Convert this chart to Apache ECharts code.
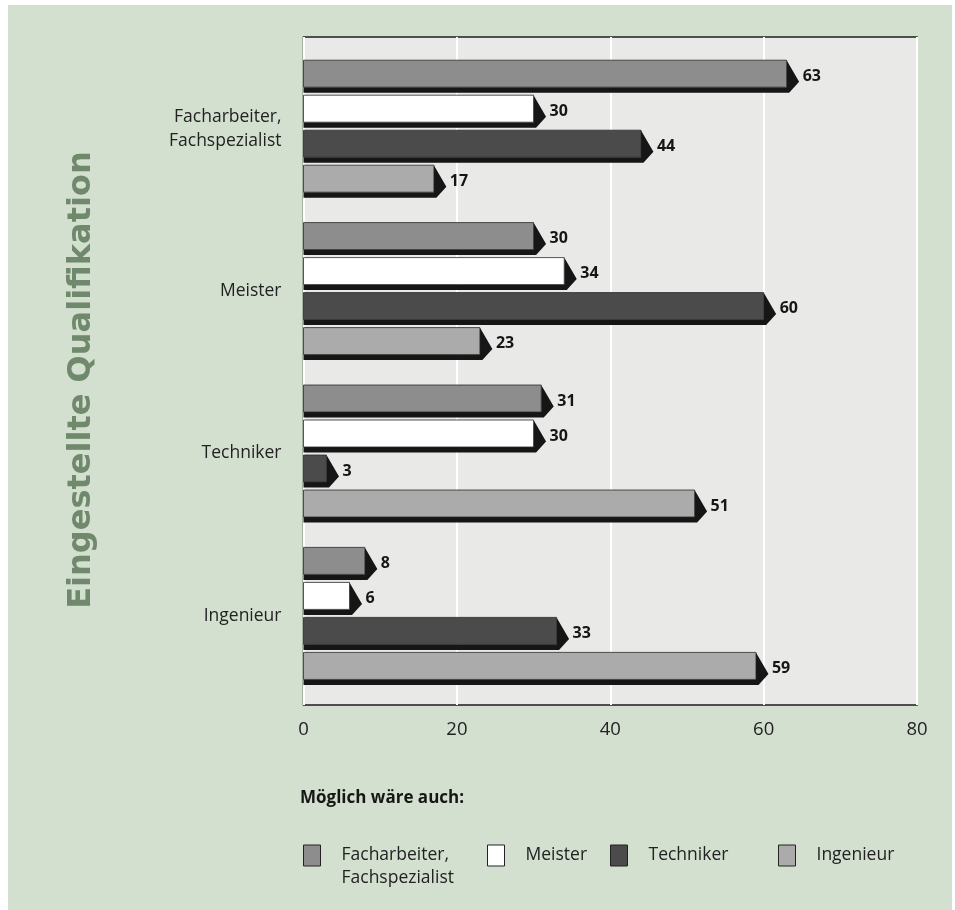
<!DOCTYPE html>
<html>
<head>
<meta charset="utf-8">
<script src="https://cdn.jsdelivr.net/npm/echarts@6/dist/echarts.min.js"></script>
<style>
  html, body { margin: 0; padding: 0; background: #ffffff; }
  #chart { position: absolute; left: 8px; top: 5px; width: 944px; height: 905px; }
</style>
</head>
<body>
<div id="chart"></div>
<script>
// Eingestellte Qualifikation (rows) vs. "Möglich wäre auch" (bars per row)
const categories = ['Facharbeiter, Fachspezialist', 'Meister', 'Techniker', 'Ingenieur'];
const seriesNames = ['Facharbeiter, Fachspezialist', 'Meister', 'Techniker', 'Ingenieur'];
const facharbeiter = [63, 30, 31, 8];
const meister = [30, 34, 30, 6];
const techniker = [44, 60, 3, 33];
const ingenieur = [17, 23, 51, 59];
const axisMin = 0, axisMax = 80, axisStep = 20;

const seriesValues = [facharbeiter, meister, techniker, ingenieur];
const faceColors = ['#8d8d8d', '#ffffff', '#4b4b4b', '#ababab'];

const textFont = '"Open Sans", "Noto Sans", sans-serif';
const boldFont = '"Open Sans", "DejaVu Sans", sans-serif';

// vertical layout of the four bars inside one category band (px from band centre)
const BAR_PITCH = 35;
const GROUP_TOP = -68.5;
const FACE_H = 27;
const DEPTH = 5.5;

function wrapName(s) { return s.replace(', ', ',\n'); }

function makeRenderer(k) {
  return function (params, api) {
    const cat = api.value(0);
    const v = api.value(1);
    const p0 = api.coord([0, cat]);
    const p1 = api.coord([v, cat]);
    const x0 = p0[0], xe = p1[0];
    const top = p0[1] + GROUP_TOP + k * BAR_PITCH;
    const bot = top + FACE_H;
    return {
      type: 'group',
      children: [
        {
          type: 'polygon',
          shape: { points: [[x0, bot], [xe, bot], [xe, top], [xe + 12.5, top + 21.5], [xe + 2.5, bot + DEPTH], [x0, bot + DEPTH]] },
          style: { fill: '#161616' }
        },
        {
          type: 'rect',
          shape: { x: x0, y: top, width: xe - x0, height: FACE_H },
          style: { fill: faceColors[k], stroke: '#2a2a2a', lineWidth: 0.8 }
        },
        {
          type: 'text',
          style: {
            x: xe + 16, y: top + 16, text: String(v),
            font: 'bold 16px ' + boldFont, fill: '#161616',
            align: 'left', verticalAlign: 'middle'
          }
        }
      ]
    };
  };
}

const series = seriesNames.map((name, k) => ({
  name: name,
  type: 'custom',
  xAxisIndex: 1,
  yAxisIndex: 1,
  encode: { x: 1, y: 0 },
  itemStyle: { color: faceColors[k], borderColor: '#222', borderWidth: 1 },
  renderItem: makeRenderer(k),
  data: seriesValues[k].map((v, i) => [i, v])
}));

// two-line legend entry: a leading empty line keeps the first text line level with the box
function legendText(s) {
  const wrapped = wrapName(s);
  return wrapped.indexOf('\n') >= 0 ? '\n' + wrapped : wrapped;
}

const legendLefts = [295, 479, 602, 770];
const legends = seriesNames.map((name, k) => ({
  data: [name],
  left: legendLefts[k],
  top: k === 0 ? 816 : 839,
  padding: 0,
  orient: 'horizontal',
  icon: 'rect',
  itemWidth: 17,
  itemHeight: 21,
  selectedMode: false,
  itemStyle: { borderColor: '#222', borderWidth: 1 },
  formatter: legendText,
  textStyle: {
    fontFamily: textFont, fontSize: 17.5, color: '#222', lineHeight: 23,
    padding: [0, 0, 0, 16]
  }
}));

const chart = echarts.init(document.getElementById('chart'));
chart.setOption({
  backgroundColor: '#d3e0cf',
  animation: false,
  title: {
    text: 'Möglich wäre auch:',
    left: 292, top: 785, padding: 0,
    textStyle: { fontFamily: boldFont, fontWeight: 'bold', fontSize: 17, color: '#161616' }
  },
  legend: legends,
  graphic: [{
    type: 'text',
    x: 74, y: 375,
    rotation: Math.PI / 2,
    style: {
      text: 'Eingestellte Qualifikation',
      font: 'bold 32px "DejaVu Sans", sans-serif',
      fill: '#70886b', align: 'center', verticalAlign: 'middle'
    }
  }],
  grid: [
    { left: 295.5, top: 32, width: 613.5, height: 668, show: true, backgroundColor: '#e9e9e7', borderColor: '#1e1e1e', borderWidth: 1.5, z: 0 },
    { left: 295.5, top: 42.5, width: 613.5, height: 649.6 }
  ],
  xAxis: [
    {
      gridIndex: 0, type: 'value', min: axisMin, max: axisMax, interval: axisStep,
      axisLine: { show: false }, axisTick: { show: false },
      splitLine: { show: true, lineStyle: { color: '#ffffff', width: 2 } },
      axisLabel: { fontFamily: textFont, fontSize: 18.5, color: '#222', margin: 15 }
    },
    {
      gridIndex: 1, type: 'value', min: axisMin, max: axisMax, show: false,
      splitLine: { show: false }
    }
  ],
  yAxis: [
    { gridIndex: 0, type: 'value', min: 0, max: 1, show: false, splitLine: { show: false } },
    {
      gridIndex: 1, type: 'category', data: categories, inverse: true,
      axisLine: { show: false }, axisTick: { show: false },
      splitLine: { show: false },
      axisLabel: {
        formatter: wrapName, fontFamily: textFont, fontSize: 17.5, color: '#222',
        margin: 22, lineHeight: 24, align: 'right', padding: [7, 0, 0, 0]
      }
    }
  ],
  series: series
});
</script>
</body>
</html>
